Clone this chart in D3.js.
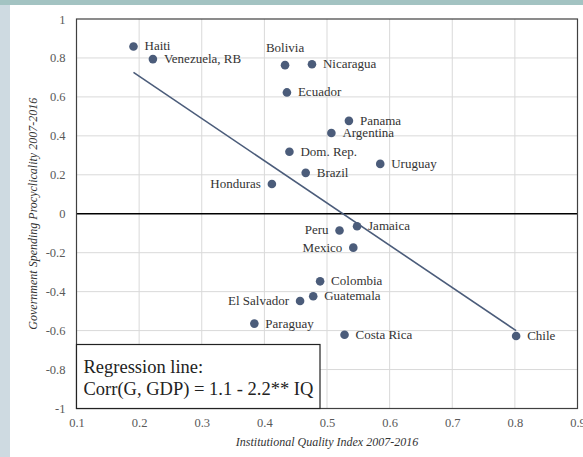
<!DOCTYPE html>
<html>
<head>
<meta charset="utf-8">
<script src="https://cdn.jsdelivr.net/npm/d3@7"></script>
<style>
  html, body { margin: 0; padding: 0; background: #fff; }
  svg { display: block; }
  svg text { font-family: "Liberation Serif", "DejaVu Serif", serif; }
</style>
</head>
<body>
<svg id="chart" width="583" height="457"></svg>
<script>
// country data
const countries = ['Haiti', 'Venezuela, RB', 'Bolivia', 'Nicaragua', 'Ecuador', 'Panama', 'Argentina',
  'Dom. Rep.', 'Uruguay', 'Brazil', 'Honduras', 'Jamaica', 'Peru', 'Mexico', 'Colombia', 'Guatemala',
  'El Salvador', 'Paraguay', 'Costa Rica', 'Chile'];
const iq = [0.191, 0.222, 0.433, 0.476, 0.436, 0.535, 0.507,
  0.440, 0.585, 0.466, 0.412, 0.548, 0.520, 0.542, 0.489, 0.478,
  0.457, 0.384, 0.528, 0.802];
const procyc = [0.859, 0.794, 0.763, 0.768, 0.623, 0.477, 0.415,
  0.318, 0.256, 0.210, 0.153, -0.064, -0.086, -0.174, -0.347, -0.424,
  -0.448, -0.564, -0.621, -0.628];

const xTicks = [0.1, 0.2, 0.3, 0.4, 0.5, 0.6, 0.7, 0.8, 0.9];
const yTicks = [-1, -0.8, -0.6, -0.4, -0.2, 0, 0.2, 0.4, 0.6, 0.8, 1];

// fitted line as drawn
const intercept = 1.14;
const slope = -2.17;

const legendLines = ['Regression line:', 'Corr(G, GDP) = 1.1 - 2.2** IQ'];
const xTitle = 'Institutional Quality Index 2007-2016';
const yTitle = 'Government Spending Procyclicality 2007-2016';

// which side each label sits on (default right)
const labelSide = { 'Bolivia': 'top', 'Honduras': 'left', 'Peru': 'left', 'Mexico': 'left', 'El Salvador': 'left' };

const svg = d3.select('#chart');
const dotColor = '#4b5c7a';

// frame strips
svg.append('rect').attr('x', 0).attr('y', 0).attr('width', 583).attr('height', 5).attr('fill', '#a3c3c2');
svg.append('rect').attr('x', 0).attr('y', 5).attr('width', 10).attr('height', 452).attr('fill', '#cedae1');

const x = d3.scaleLinear().domain([0.1, 0.9]).range([76.5, 577.5]);
const y = d3.scaleLinear().domain([-1, 1]).range([408.5, 19]);

// grid
const grid = svg.append('g');
grid.selectAll('line.gx').data(xTicks.slice(1, -1)).enter().append('line')
  .attr('x1', d => x(d)).attr('x2', d => x(d))
  .attr('y1', y(1)).attr('y2', y(-1))
  .attr('stroke', '#d9d9d9').attr('stroke-width', 1);
grid.selectAll('line.gy').data(yTicks.slice(1, -1).filter(d => d !== 0)).enter().append('line')
  .attr('x1', x(0.1)).attr('x2', x(0.9))
  .attr('y1', d => y(d)).attr('y2', d => y(d))
  .attr('stroke', '#d9d9d9').attr('stroke-width', 1);

// tick labels via d3 axes, no domain/ticks drawn
const fmt = d => String(d);
const xAxis = svg.append('g')
  .attr('transform', `translate(0,${y(-1)})`)
  .call(d3.axisBottom(x).tickValues(xTicks).tickSize(0).tickPadding(10).tickFormat(fmt));
const yAxis = svg.append('g')
  .attr('transform', `translate(${x(0.1)},0)`)
  .call(d3.axisLeft(y).tickValues(yTicks).tickSize(0).tickPadding(11).tickFormat(fmt));
[xAxis, yAxis].forEach(a => {
  a.select('.domain').remove();
  a.selectAll('text').attr('font-size', 12.5).attr('fill', '#595959');
});

// zero line
svg.append('line')
  .attr('x1', x(0.1)).attr('x2', x(0.9)).attr('y1', y(0)).attr('y2', y(0))
  .attr('stroke', '#000').attr('stroke-width', 1.5);

// regression line across the data range
const [xmin, xmax] = d3.extent(iq);
svg.append('line')
  .attr('x1', x(xmin)).attr('y1', y(intercept + slope * xmin))
  .attr('x2', x(xmax)).attr('y2', y(intercept + slope * xmax))
  .attr('stroke', dotColor).attr('stroke-width', 1.6);

// points and labels
const pts = countries.map((c, i) => ({ name: c, x: iq[i], y: procyc[i] }));
const node = svg.append('g').selectAll('g').data(pts).enter().append('g')
  .attr('transform', d => `translate(${x(d.x)},${y(d.y)})`);
node.append('circle').attr('r', 4.3).attr('fill', dotColor);
node.append('text')
  .attr('x', d => labelSide[d.name] === 'left' ? -11 : labelSide[d.name] === 'top' ? 0 : 11)
  .attr('y', d => labelSide[d.name] === 'top' ? -13 : 4)
  .attr('text-anchor', d => labelSide[d.name] === 'left' ? 'end' : labelSide[d.name] === 'top' ? 'middle' : 'start')
  .attr('font-size', 13)
  .attr('fill', '#333')
  .text(d => d.name);

// plot border
svg.append('rect')
  .attr('x', x(0.1)).attr('y', y(1))
  .attr('width', x(0.9) - x(0.1)).attr('height', y(-1) - y(1))
  .attr('fill', 'none').attr('stroke', '#404040').attr('stroke-width', 1.2);

// legend box
const lg = svg.append('g');
lg.append('rect')
  .attr('x', x(0.1)).attr('y', 344.5)
  .attr('width', 243.5).attr('height', y(-1) - 344.5)
  .attr('fill', '#fff').attr('stroke', '#222').attr('stroke-width', 1.2);
lg.selectAll('text').data(legendLines).enter().append('text')
  .attr('x', 83.5)
  .attr('y', (d, i) => 372.5 + i * 22.7)
  .attr('font-size', 18.5)
  .attr('fill', '#222')
  .text(d => d);

// axis titles
svg.append('text')
  .attr('x', (x(0.1) + x(0.9)) / 2).attr('y', 445.5)
  .attr('text-anchor', 'middle')
  .attr('font-size', 12).attr('font-style', 'italic').attr('fill', '#333')
  .text(xTitle);
svg.append('text')
  .attr('transform', `translate(37,${(y(1) + y(-1)) / 2}) rotate(-90)`)
  .attr('text-anchor', 'middle')
  .attr('font-size', 12).attr('font-style', 'italic').attr('fill', '#333')
  .text(yTitle);
</script>
</body>
</html>
